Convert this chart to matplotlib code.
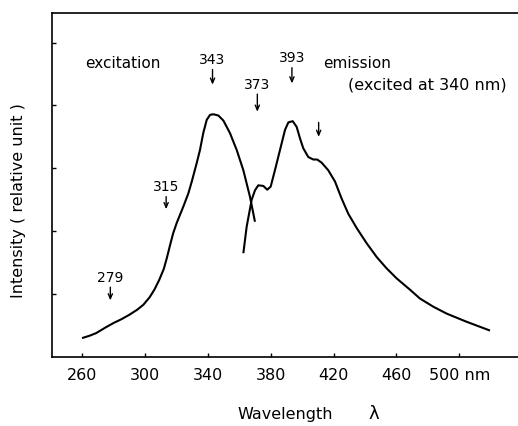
import matplotlib
matplotlib.use("Agg")
import matplotlib.pyplot as plt

# Excitation spectrum (nm, relative intensity)
exc_x = [260, 265, 269, 275, 280, 285, 290, 295, 299, 303, 306, 309, 312, 314, 316, 318, 320.2,
         324.4, 327.6, 329.8, 332.9, 335, 337.1, 339.3, 341.4, 343.5, 346.7, 349.9, 354.1,
         358.4, 362.6, 366.8, 370]
exc_y = [0.30, 0.34, 0.38, 0.47, 0.54, 0.60, 0.67, 0.75, 0.83, 0.95, 1.07, 1.22, 1.40, 1.58,
         1.78, 1.97, 2.13, 2.39, 2.60, 2.79, 3.08, 3.29, 3.56, 3.77, 3.85, 3.86, 3.84, 3.76,
         3.56, 3.29, 2.97, 2.55, 2.15]

# Emission spectrum (excited at 340 nm)
em_x = [362.6, 364.7, 367.9, 370, 372.1, 375.3, 377.8, 380, 382.7, 385.9, 389.1, 391.2, 394,
        396.5, 398.6, 400.7, 403.9, 407.1, 409.6, 412.4, 416.6, 420.9, 425.1, 429.3, 434.7,
        441, 447.4, 453.7, 460.1, 468.6, 474.9, 483.4, 491.9, 504.6, 519.5]
em_y = [1.65, 2.07, 2.50, 2.65, 2.73, 2.72, 2.66, 2.71, 2.97, 3.29, 3.61, 3.73, 3.75, 3.66,
        3.48, 3.32, 3.18, 3.14, 3.14, 3.09, 2.97, 2.79, 2.52, 2.28, 2.05, 1.81, 1.59, 1.41,
        1.25, 1.07, 0.93, 0.80, 0.69, 0.56, 0.42]

# Peak annotations: wavelength, label, label y, arrow tail y, arrow tip y
peak_x = [278, 313.5, 343, 371.5, 393.5, 410.5]
peak_labels = ["279", "315", "343", "373", "393", ""]
peak_text_y = [1.26, 2.70, 4.72, 4.32, 4.75, 0]
peak_tail_y = [1.11, 2.55, 4.57, 4.18, 4.60, 3.73]
peak_tip_y = [0.90, 2.35, 4.33, 3.90, 4.35, 3.50]

xticks = [260, 300, 340, 380, 420, 460, 500]
xticklabels = ["260", "300", "340", "380", "420", "460", "500 nm"]
yticks = [1, 2, 3, 4, 5]

fig = plt.figure(figsize=(5.18, 4.26), dpi=100)
ax = fig.add_axes([0.1004, 0.162, 0.8996, 0.8075])

ax.plot(exc_x, exc_y, color="black", lw=1.5, solid_capstyle="butt", solid_joinstyle="round")
ax.plot(em_x, em_y, color="black", lw=1.5, solid_capstyle="butt", solid_joinstyle="round")

ax.set_xlim(240.9, 537.3)
ax.set_ylim(0, 5.47)
ax.set_xticks(xticks)
ax.set_xticklabels(xticklabels, fontsize=11.5)
ax.set_yticks(yticks)
ax.set_yticklabels([])
ax.tick_params(direction="in", length=3, width=1, pad=8)
ax.spines["right"].set_visible(False)
for s in ["left", "bottom", "top"]:
    ax.spines[s].set_linewidth(1.2)

for x, lab, ty, t0, t1 in zip(peak_x, peak_labels, peak_text_y, peak_tail_y, peak_tip_y):
    if lab:
        ax.text(x, ty, lab, ha="center", va="center", fontsize=10)
    ax.annotate("", xy=(x, t1), xytext=(x, t0),
                arrowprops=dict(arrowstyle="->,head_length=0.35,head_width=0.15",
                                lw=1.0, color="black", shrinkA=0, shrinkB=0))

ax.text(286, 4.67, "excitation", ha="center", va="center", fontsize=11)
ax.text(435, 4.67, "emission", ha="center", va="center", fontsize=11)
ax.text(479.5, 4.32, "(excited at 340 nm)", ha="center", va="center", fontsize=11.5)

fig.text(19 / 518, 1 - 201 / 426, "Intensity ( relative unit )", rotation=90,
         ha="center", va="center", fontsize=11.5)
fig.text(285 / 518, 1 - 415 / 426, "Wavelength", ha="center", va="center", fontsize=11.5)
fig.text(374 / 518, 1 - 414 / 426, "λ", ha="center", va="center", fontsize=13)

fig.savefig("out.png", dpi=100)
